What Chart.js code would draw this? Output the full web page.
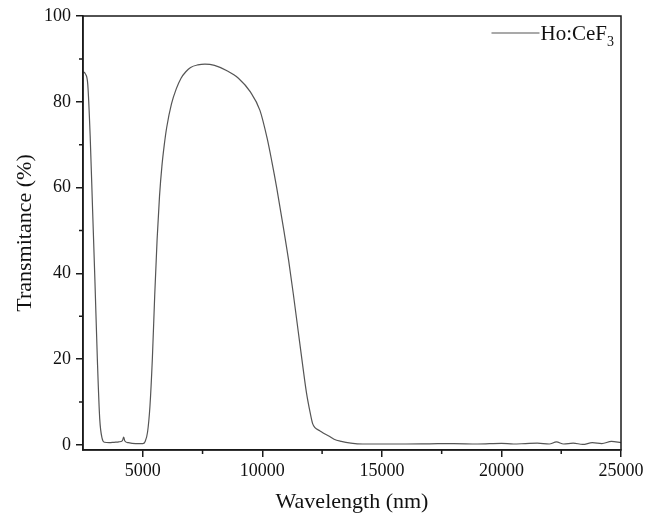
<!DOCTYPE html>
<html>
<head>
<meta charset="utf-8">
<script src="https://cdn.jsdelivr.net/npm/chart.js@4.4.1/dist/chart.umd.min.js"></script>
<style>
  html, body { margin: 0; padding: 0; background: #fff; }
  #wrap { width: 657px; height: 520px; }
</style>
</head>
<body>
<div id="wrap"><canvas id="spectrum"></canvas></div>
<script>
// wavelength in nm, transmittance in %
const wavelength = [2500, 2600, 2700, 2800, 2900, 3000, 3100, 3200, 3300, 3400, 3600, 3800, 4000, 4150, 4200, 4250, 4400, 4700, 5000,
    5100, 5200, 5300, 5400, 5500, 5600, 5700, 5800, 5900, 6000, 6200, 6400, 6600, 6800, 7000, 7300, 7600, 8000, 8500, 9000,
    9500, 9900, 10200, 10400, 10600, 10900, 11100, 11300, 11500, 11700, 11850, 12000, 12100, 12200, 12400, 12600, 12800, 13000, 13300,
    13700, 14200, 15000, 16000, 17000, 18000, 19000, 20000, 20500, 21000, 21500, 22000, 22300, 22600, 23000, 23400, 23800,
    24200, 24600, 25000];
const transmittance = [87, 86.5, 84, 72, 55, 38, 20, 6, 1.5, 0.6, 0.5, 0.6, 0.7, 1.0, 1.8, 0.9, 0.5, 0.3, 0.3,
    0.8, 3, 9, 20, 35, 48, 58, 65, 70, 74, 79.5, 83, 85.5, 87, 88, 88.6, 88.8, 88.5, 87.3, 85.5,
    82.3, 78, 71.5, 66, 60, 50, 43, 35, 26.5, 18, 12, 7.5, 5, 4, 3.3, 2.6, 2, 1.3, 0.8,
    0.4, 0.2, 0.2, 0.2, 0.25, 0.3, 0.2, 0.35, 0.2, 0.3, 0.4, 0.2, 0.7, 0.2, 0.4, 0.1, 0.5,
    0.3, 0.8, 0.5];

const xMajor = [5000, 10000, 15000, 20000, 25000];
const xMinor = [7500, 12500, 17500, 22500];
const yMajor = [0, 20, 40, 60, 80, 100];
const yMinor = [10, 30, 50, 70, 90];

const serif = "'Liberation Serif', 'Times New Roman', serif";
const axisColor = '#1a1a1a';
const lineColor = '#555';

// frame, minor ticks and the little legend in the top right corner
const framePlugin = {
    id: 'frame',
    afterDraw(chart) {
        const ctx = chart.ctx;
        const a = chart.chartArea;
        const sx = chart.scales.x, sy = chart.scales.y;
        ctx.save();
        ctx.strokeStyle = axisColor;
        ctx.lineWidth = 1.5;
        ctx.strokeRect(a.left, a.top, a.right - a.left, a.bottom - a.top);
        ctx.beginPath();
        xMinor.forEach(v => {
            const px = sx.getPixelForValue(v);
            ctx.moveTo(px, a.bottom);
            ctx.lineTo(px, a.bottom + 4);
        });
        yMinor.forEach(v => {
            const py = sy.getPixelForValue(v);
            ctx.moveTo(a.left, py);
            ctx.lineTo(a.left - 4, py);
        });
        ctx.stroke();

        // legend
        const label = chart.data.datasets[0].label;
        const y = a.top + 17;
        ctx.font = '21px ' + serif;
        const mainW = ctx.measureText(label).width;
        ctx.font = '14px ' + serif;
        const subW = ctx.measureText('3').width;
        const textX = a.right - 7 - subW - mainW;
        ctx.fillStyle = '#111';
        ctx.textBaseline = 'alphabetic';
        ctx.font = '21px ' + serif;
        ctx.fillText(label, textX, y + 7);
        ctx.font = '14px ' + serif;
        ctx.fillText('3', textX + mainW, y + 13);
        ctx.strokeStyle = lineColor;
        ctx.lineWidth = 1.2;
        ctx.beginPath();
        ctx.moveTo(textX - 49, y);
        ctx.lineTo(textX - 1, y);
        ctx.stroke();
        ctx.restore();
    }
};

const ctx = document.getElementById('spectrum').getContext('2d');
const chart = new Chart(ctx, {
    type: 'line',
    data: {
        datasets: [{
            label: 'Ho:CeF',
            data: wavelength.map((w, i) => ({x: w, y: transmittance[i]})),
            borderColor: lineColor,
            borderWidth: 1.2,
            pointRadius: 0,
            cubicInterpolationMode: 'monotone',
            fill: false
        }]
    },
    options: {
        responsive: true,
        maintainAspectRatio: false,
        animation: false,
        layout: {padding: {top: 16, right: 36, left: 0, bottom: 0}},
        plugins: {
            tooltip: {enabled: false},
            legend: {display: false}
        },
        scales: {
            x: {
                type: 'linear',
                min: 2500,
                max: 25000,
                afterBuildTicks: s => { s.ticks = xMajor.map(v => ({value: v})); },
                afterFit: s => { s.height = 70; },
                grid: {drawOnChartArea: false, tickLength: 7, color: axisColor, lineWidth: 1.5},
                border: {color: axisColor, width: 1.5},
                ticks: {color: '#111', font: {family: serif, size: 18}, padding: 3, maxRotation: 0,
                    callback: v => String(v)},
                title: {display: true, text: 'Wavelength (nm)', color: '#111', font: {family: serif, size: 22}, padding: {top: 0, bottom: 5}}
            },
            y: {
                min: -1.2,
                max: 100,
                afterBuildTicks: s => { s.ticks = yMajor.map(v => ({value: v})); },
                afterFit: s => { s.width = 83; },
                grid: {drawOnChartArea: false, tickLength: 7, color: axisColor, lineWidth: 1.5},
                border: {color: axisColor, width: 1.5},
                ticks: {color: '#111', font: {family: serif, size: 18}, padding: 5, callback: v => String(v)},
                title: {display: true, text: 'Transmitance (%)', color: '#111', font: {family: serif, size: 22}, padding: {top: 12, bottom: 0}}
            }
        }
    },
    plugins: [framePlugin]
});
</script>
</body>
</html>
